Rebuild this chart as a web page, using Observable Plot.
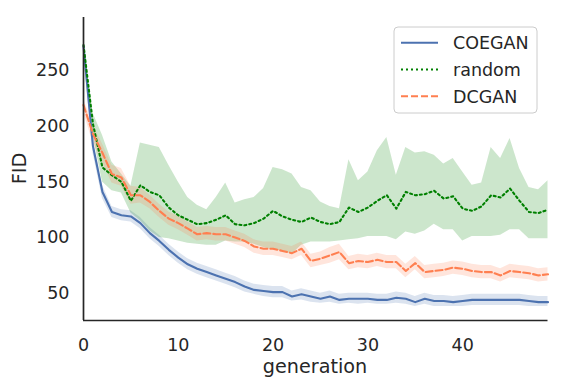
<!DOCTYPE html>
<html><head><meta charset="utf-8">
<script src="https://cdn.jsdelivr.net/npm/d3@7"></script>
<script src="https://cdn.jsdelivr.net/npm/@observablehq/plot@0.6"></script>
<style>
body{margin:0;background:#fff;}
#chart{position:relative;width:566px;height:386px;}
</style></head><body><div id="chart"></div>
<script>
const generations = [0,1,2,3,4,5,6,7,8,9,10,11,12,13,14,15,16,17,18,19,20,21,22,23,24,25,26,27,28,29,30,31,32,33,34,35,36,37,38,39,40,41,42,43,44,45,46,47,48,49];
const seriesNames = ["COEGAN", "random", "DCGAN"];
const xTicks = [0, 10, 20, 30, 40];
const yTicks = [50, 100, 150, 200, 250];

const coeganMean = [272,182,141,123,120,119,113,104,97,89,82,76,72,69,66,63,60,56,53,52,51,51,47,49,47,45,47,44,45,45,45,44,44,46,45,42,45,43,43,42,43,44,44,44,44,44,44,43,42,42];
const coeganLo   = [268,176,135,118,115,114,108,99,92,84,77,71,67,64,61,58,55,51,49,47,46,46,43,44,42,41,42,40,41,40,41,40,40,41,40,38,40,38,38,38,38,39,39,39,39,39,39,38,38,38];
const coeganHi   = [276,188,147,128,125,124,118,109,102,94,87,81,77,74,71,68,65,61,58,57,56,56,52,54,52,50,52,49,50,50,50,49,49,51,50,47,50,48,48,47,48,49,49,49,49,49,49,48,47,47];

const randomMean = [273,202,163,156,150,133,147,141,138,127,120,116,112,113,116,120,112,111,113,117,124,119,116,114,118,114,112,114,127,123,127,133,138,126,141,138,139,142,135,137,126,124,128,138,136,144,133,123,122,125];
const randomLo   = [270,192,150,142,140,122,115,106,100,99,97,95,94,93,93,97,96,96,94,91,89,88,85,93,96,96,96,97,98,99,101,101,101,98,105,103,106,112,107,107,97,101,101,101,102,107,107,99,99,99];
const randomHi   = [276,212,192,168,157,146,185,183,181,165,150,136,129,125,136,149,131,134,136,144,163,161,157,145,142,132,128,126,170,151,159,178,190,156,181,176,177,174,166,171,159,147,149,181,171,189,162,145,143,151];

const dcganMean = [219,193,176,157,154,138,138,132,124,117,113,108,103,104,103,103,100,97,92,90,90,88,86,90,79,81,84,87,77,79,78,80,78,78,70,77,69,70,71,73,72,70,69,69,66,70,69,68,66,67];
const dcganLo   = [213,185,168,149,146,130,131,126,118,111,107,102,97,98,97,97,94,91,86,84,84,82,80,84,73,75,77,80,71,73,72,74,72,72,64,71,63,64,65,67,66,64,63,63,60,64,63,62,60,61];
const dcganHi   = [225,201,184,165,162,146,145,138,130,123,119,114,109,110,109,109,106,103,98,96,96,94,92,96,85,87,91,94,83,85,84,86,84,84,76,83,75,76,77,79,78,76,75,75,72,76,75,74,72,73];

const colors = {COEGAN: "#4c72b0", random: "#008000", DCGAN: "#ff7f50"};
const dashes = {COEGAN: null, random: "2,3", DCGAN: "7,3"};
const seriesData = {
  COEGAN: [coeganMean, coeganLo, coeganHi],
  random: [randomMean, randomLo, randomHi],
  DCGAN: [dcganMean, dcganLo, dcganHi]
};
const rowsFor = name => generations.map((g, i) => ({
  series: name, generation: g,
  mean: seriesData[name][0][i], lo: seriesData[name][1][i], hi: seriesData[name][2][i]
}));

const yMin = 25.5, yMax = 297.7;

const plot = Plot.plot({
  width: 566, height: 386,
  marginLeft: 83, marginRight: 18.5, marginTop: 17, marginBottom: 66,
  style: {fontFamily: "DejaVu Sans", fontSize: "17.5px", color: "#262626", background: "#fff", overflow: "visible"},
  x: {domain: [0, 49]},
  y: {domain: [yMin, yMax]},
  marks: [
    ...seriesNames.map(n => Plot.areaY(rowsFor(n), {x: "generation", y1: "lo", y2: "hi", fill: colors[n], fillOpacity: 0.2})),
    ...seriesNames.map(n => Plot.line(rowsFor(n), {x: "generation", y: "mean", stroke: colors[n], strokeWidth: 2.1, strokeDasharray: dashes[n]})),
    Plot.ruleX([0], {stroke: "#262626", strokeWidth: 1.7}),
    Plot.ruleY([yMin], {stroke: "#262626", strokeWidth: 1.7}),
    Plot.axisX({ticks: xTicks, tickSize: 0, tickPadding: 18, label: null}),
    Plot.axisY({ticks: yTicks, tickSize: 0, tickPadding: 14, label: null})
  ]
});

document.getElementById("chart").appendChild(plot);
const svg = d3.select(plot);

svg.append("text").attr("x", 315).attr("y", 373).attr("text-anchor", "middle")
  .attr("font-size", "19.2px").attr("fill", "#262626").text("generation");
svg.append("text").attr("transform", "translate(25.5,168.5) rotate(-90)").attr("text-anchor", "middle")
  .attr("font-size", "19.2px").attr("fill", "#262626").text("FID");

const lg = svg.append("g");
lg.append("rect").attr("x", 394).attr("y", 27).attr("width", 143).attr("height", 86)
  .attr("rx", 4).attr("fill", "#fff").attr("fill-opacity", 0.85).attr("stroke", "#cccccc").attr("stroke-width", 1);
seriesNames.forEach((n, i) => {
  const cy = 42.8 + i * 26.7;
  lg.append("line").attr("x1", 401).attr("x2", 438).attr("y1", cy).attr("y2", cy)
    .attr("stroke", colors[n]).attr("stroke-width", 2.1).attr("stroke-dasharray", dashes[n]);
  lg.append("text").attr("x", 453).attr("y", cy + 6.4).attr("text-anchor", "start")
    .attr("font-size", "17.5px").attr("fill", "#262626").text(n);
});
</script></body></html>
